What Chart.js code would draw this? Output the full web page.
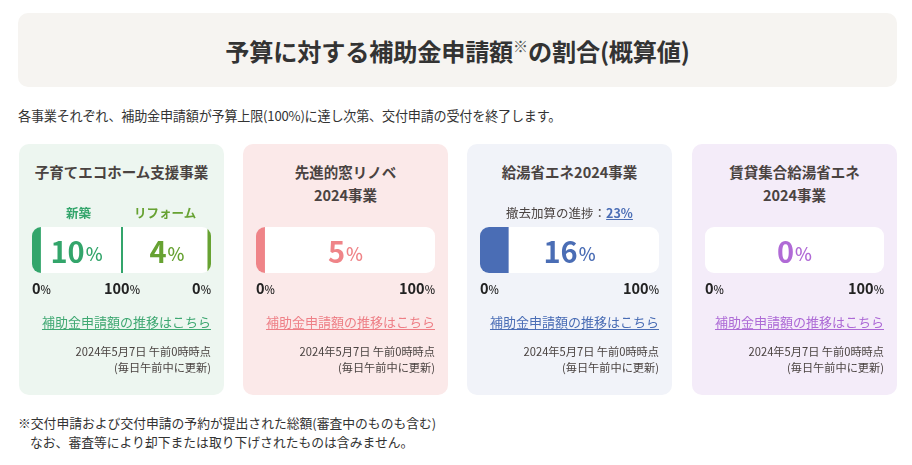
<!DOCTYPE html>
<html lang="ja">
<head>
<meta charset="utf-8">
<script src="https://cdn.jsdelivr.net/npm/chart.js@4/dist/chart.umd.min.js"></script>
<style>
  body { margin: 0; width: 912px; height: 465px; background: #fff; font-family: 'Noto Sans CJK JP', 'Noto Sans', sans-serif; color: #3a3533; position: relative; overflow: hidden; }
  .head { position: absolute; left: 18px; top: 13px; width: 879px; height: 74px; background: #f6f4f1; border-radius: 10px; display: flex; align-items: center; justify-content: center; }
  .head h1 { margin: 0; font-size: 24.2px; font-weight: 700; letter-spacing: -0.2px; color: #333; }
  .head sup { font-size: 15px; font-weight: 400; color: #555; vertical-align: 9px; }
  .lead { position: absolute; left: 18px; top: 106px; margin: 0; font-size: 13.1px; color: #333; letter-spacing: -0.2px; }
  .card { position: absolute; top: 144px; width: 205px; height: 251px; border-radius: 10px; }
  .card .title { position: absolute; left: 0; right: 0; top: 16px; text-align: center; font-size: 14.5px; font-weight: 700; line-height: 23px; color: #4a4341; }
  .card .sub { position: absolute; top: 60px; font-size: 12.5px; line-height: 18px; font-weight: 700; }
  .card .sub.plain { left: 0; right: 0; text-align: center; font-weight: 400; color: #4a4341; }
  .card .sub a { text-decoration: underline; }
  .bar { position: absolute; left: 13px; top: 83px; width: 179px; height: 46px; background: #fff; border-radius: 9px; overflow: hidden; display: flex; }
  .bar .half { position: relative; height: 46px; }
  .bar canvas { display: block; }
  .bar .divider { width: 2px; height: 46px; }
  .val { position: absolute; top: 0; bottom: 0; left: 0; right: 0; display: flex; align-items: center; justify-content: center; font-size: 29px; font-weight: 700; pointer-events: none; }
  .val small { font-size: 18px; font-weight: 500; margin-left: 1px; margin-top: 6px; }
  .tick { position: absolute; top: 134px; font-size: 14.5px; font-weight: 700; color: #222; line-height: 20px; }
  .tick small { font-size: 11px; font-weight: 500; }
  .link { position: absolute; right: 13px; top: 168px; font-size: 13px; text-decoration: underline; text-underline-offset: 2px; line-height: 20px; }
  .date { position: absolute; right: 13px; top: 200px; font-size: 11.2px; line-height: 15.5px; text-align: right; color: #4a4341; }
  .note { position: absolute; left: 18px; top: 414px; margin: 0; font-size: 12.8px; line-height: 18.5px; color: #333; }
  .note span { display: block; padding-left: 12px; }
</style>
</head>
<body>
<div class="head"><h1>予算に対する補助金申請額<sup>※</sup>の割合(概算値)</h1></div>
<p class="lead">各事業それぞれ、補助金申請額が予算上限(100%)に達し次第、交付申請の受付を終了します。</p>
<div id="cards"></div>
<p class="note">※交付申請および交付申請の予約が提出された総額(審査中のものも含む)<span>なお、審査等により却下または取り下げされたものは含みません。</span></p>

<script>
const cardTitles = [
  ['子育てエコホーム支援事業'],
  ['先進的窓リノベ', '2024事業'],
  ['給湯省エネ2024事業'],
  ['賃貸集合給湯省エネ', '2024事業'],
];
const ecoHomeParts = ['新築', 'リフォーム'];
const ecoHomeValues = [10, 4];
const programValues = [null, 5, 16, 0];
const removalProgress = 23;
const tickLabels = ['0', '100'];
const linkText = '補助金申請額の推移はこちら';
const dateLines = ['2024年5月7日 午前0時時点', '(毎日午前中に更新)'];

const cardLeft = [19, 243, 467, 692];
const cardBg = ['#edf6f0', '#fbe9e9', '#f1f3f9', '#f4ecf9'];
const barColors = ['#33a56b', '#ef8488', '#4a6db5', '#b06ad6'];
const linkColors = ['#3fa872', '#ee7f86', '#4a6db5', '#ad6ad6'];
const ecoHomeColors = ['#33a56b', '#67a232'];

const pct = (value) => `${value}<small>%</small>`;

const makeBar = (parent, value, color, width, reverse = false) => {
  const wrap = document.createElement('div');
  wrap.className = 'half';
  wrap.style.width = `${width}px`;
  const canvas = document.createElement('canvas');
  canvas.width = width;
  canvas.height = 46;
  canvas.style.width = `${width}px`;
  canvas.style.height = '46px';
  wrap.appendChild(canvas);
  const label = document.createElement('div');
  label.className = 'val';
  label.style.color = color;
  label.innerHTML = pct(value);
  wrap.appendChild(label);
  parent.appendChild(wrap);

  new Chart(canvas.getContext('2d'), {
    type: 'bar',
    data: {
      labels: [''],
      datasets: [{
        data: [value],
        backgroundColor: color,
        borderWidth: 0,
        inflateAmount: 0,
        barPercentage: 1,
        categoryPercentage: 1,
      }],
    },
    options: {
      indexAxis: 'y',
      responsive: false,
      animation: false,
      layout: { padding: 0 },
      plugins: { legend: { display: false }, tooltip: { enabled: false } },
      scales: {
        x: { display: false, min: 0, max: 100, reverse },
        y: { display: false },
      },
    },
  });
};

const cardsEl = document.getElementById('cards');

cardTitles.forEach((title, i) => {
  const card = document.createElement('div');
  card.className = 'card';
  card.style.left = `${cardLeft[i]}px`;
  card.style.background = cardBg[i];

  const titleEl = document.createElement('div');
  titleEl.className = 'title';
  titleEl.innerHTML = title.join('<br>');
  card.appendChild(titleEl);

  const bar = document.createElement('div');
  bar.className = 'bar';
  card.appendChild(bar);

  if (i === 0) {
    ecoHomeParts.forEach((part, k) => {
      const sub = document.createElement('div');
      sub.className = 'sub';
      sub.style.color = ecoHomeColors[k];
      sub.style.left = k === 0 ? '47px' : '115px';
      sub.textContent = part;
      card.appendChild(sub);
    });
    makeBar(bar, ecoHomeValues[0], ecoHomeColors[0], 89, false);
    const divider = document.createElement('div');
    divider.className = 'divider';
    divider.style.background = ecoHomeColors[0];
    bar.appendChild(divider);
    makeBar(bar, ecoHomeValues[1], ecoHomeColors[1], 88, true);

    [[0, 'left', 13], [1, 'center', 103], [0, 'right', 13]].forEach(([t, side, pos]) => {
      const tick = document.createElement('div');
      tick.className = 'tick';
      tick.innerHTML = pct(tickLabels[t]);
      if (side === 'left') tick.style.left = `${pos}px`;
      else if (side === 'right') tick.style.right = `${pos}px`;
      else { tick.style.left = `${pos}px`; tick.style.transform = 'translateX(-50%)'; }
      card.appendChild(tick);
    });
  } else {
    makeBar(bar, programValues[i], barColors[i], 179, false);
    const t0 = document.createElement('div');
    t0.className = 'tick';
    t0.style.left = '13px';
    t0.innerHTML = pct(tickLabels[0]);
    card.appendChild(t0);
    const t1 = document.createElement('div');
    t1.className = 'tick';
    t1.style.right = '13px';
    t1.innerHTML = pct(tickLabels[1]);
    card.appendChild(t1);
  }

  if (i === 2) {
    const sub = document.createElement('div');
    sub.className = 'sub plain';
    sub.innerHTML = `撤去加算の進捗：<a style="color:${linkColors[2]};font-weight:700">${removalProgress}%</a>`;
    card.appendChild(sub);
  }

  const link = document.createElement('div');
  link.className = 'link';
  link.style.color = linkColors[i];
  link.textContent = linkText;
  card.appendChild(link);

  const date = document.createElement('div');
  date.className = 'date';
  date.innerHTML = dateLines.join('<br>');
  card.appendChild(date);

  cardsEl.appendChild(card);
});
</script>
</body>
</html>
